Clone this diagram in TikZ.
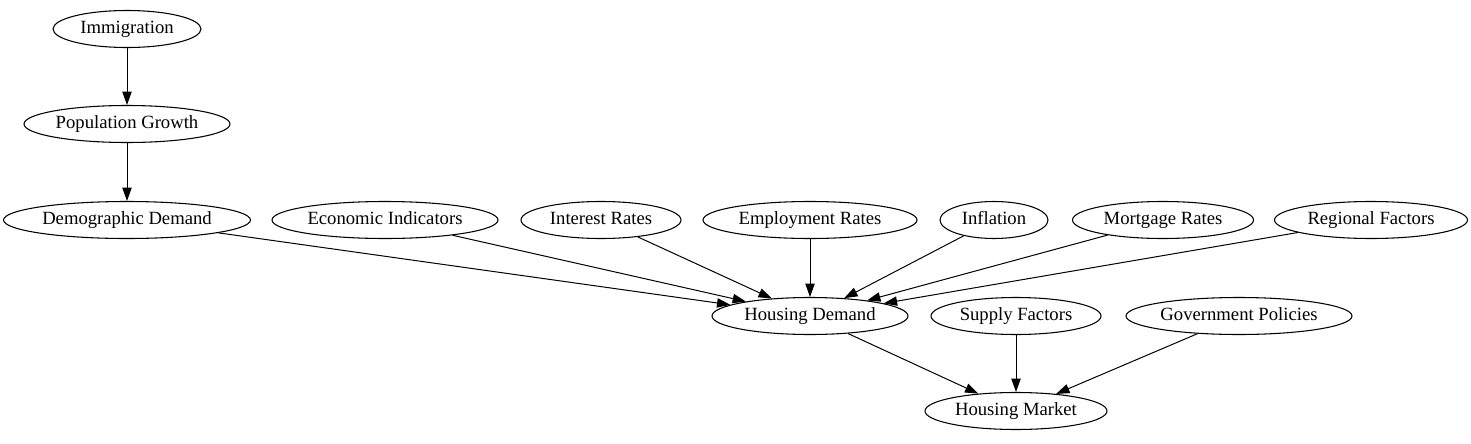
\documentclass[tikz,border=0pt]{standalone}
\usepackage{fontspec}
\setmainfont{Liberation Serif}
\usetikzlibrary{shapes.geometric,arrows.meta}
\begin{document}
\begin{tikzpicture}[x=0.75pt,y=-0.75pt,
  el/.style={draw,ellipse,inner sep=0pt,minimum height=27.75pt,line width=0.8pt,
    text height=0.662em,text depth=0pt,font=\fontsize{14pt}{16pt}\selectfont},
  edge/.style={line width=0.75pt,-{Triangle[length=10pt,width=7pt]}}]
\useasboundingbox (0,0) rectangle (1471,443);
\node[el,minimum width=111pt] (imm) at (127,29) {Immigration};
\node[el,minimum width=154.5pt] (pop) at (127,124) {Population Growth};
\node[el,minimum width=185.25pt] (dem) at (127,220) {Demographic Demand};
\node[el,minimum width=169.5pt] (eco) at (385,220) {Economic Indicators};
\node[el,minimum width=120pt] (int) at (601,220) {Interest Rates};
\node[el,minimum width=160.5pt] (emp) at (810,220) {Employment Rates};
\node[el,minimum width=81pt] (inf) at (994,220) {Inflation};
\node[el,minimum width=135.75pt] (mor) at (1163,220) {Mortgage Rates};
\node[el,minimum width=144.75pt] (reg) at (1371,220) {Regional Factors};
\node[el,minimum width=147pt] (hd) at (810,316) {Housing Demand};
\node[el,minimum width=127.5pt] (sup) at (1016,316) {Supply Factors};
\node[el,minimum width=169.5pt] (gov) at (1239,316) {Government Policies};
\node[el,minimum width=136.5pt] (hm) at (1016,411) {Housing Market};
\draw[edge] (imm) -- (pop);
\draw[edge] (pop) -- (dem);
\draw[edge] (dem) -- (hd);
\draw[edge] (eco) -- (hd);
\draw[edge] (int) -- (hd);
\draw[edge] (emp) -- (hd);
\draw[edge] (inf) -- (hd);
\draw[edge] (mor) -- (hd);
\draw[edge] (reg) -- (hd);
\draw[edge] (hd) -- (hm);
\draw[edge] (sup) -- (hm);
\draw[edge] (gov) -- (hm);
\end{tikzpicture}
\end{document}
